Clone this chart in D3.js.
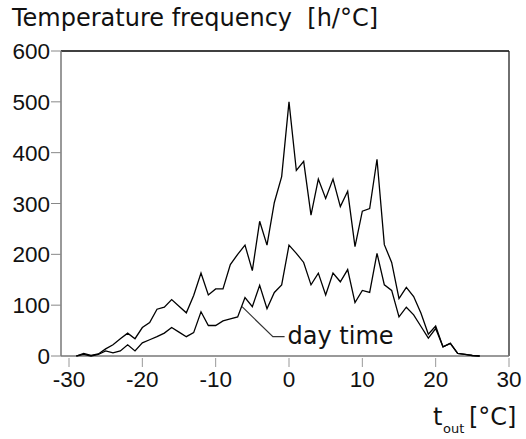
<!DOCTYPE html>
<html>
<head>
<meta charset="utf-8">
<script src="https://cdn.jsdelivr.net/npm/d3@7"></script>
<style>
  html, body { margin: 0; padding: 0; background: #fff; }
  svg { display: block; }
  text { white-space: pre; }
</style>
</head>
<body>
<script>
// ---- data ----
const temps = d3.range(-29, 27); // -29 .. 26 °C
const totalHours = [0, 5, 1, 4, 14, 22, 34, 45, 34, 56, 66, 92, 96, 111, 98, 85, 119, 163, 120, 132,
  132, 180, 200, 218, 168, 265, 218, 302, 353, 500, 365, 383, 277, 348, 310, 348, 294, 324, 215, 285,
  290, 387, 219, 184, 113, 135, 117, 84, 43, 59, 18, 25, 5, 3, 1, 0];
const dayHours = [0, 3, 0, 3, 10, 6, 10, 22, 10, 26, 32, 38, 45, 56, 47, 38, 46, 87, 60, 60,
  69, 73, 77, 115, 97, 139, 93, 125, 140, 218, 202, 184, 140, 163, 120, 163, 146, 170, 105, 129,
  125, 202, 140, 129, 77, 96, 81, 58, 35, 54, 18, 25, 5, 3, 1, 0];
const xTicks = [-30, -20, -10, 0, 10, 20, 30];
const yTicks = [0, 100, 200, 300, 400, 500, 600];
const titleText = "Temperature frequency  [h/°C]";
const dayLabel = "day time";
const leader = [[-6.4, 97], [-2.2, 38], [-0.6, 38]];

// ---- layout ----
const W = 526, H = 439;
const axisX = 61, plotRight = 509, plotTop = 51, plotBottom = 356;

const x = d3.scaleLinear().domain([-30, 30]).range([69, 509]);
const y = d3.scaleLinear().domain([0, 600]).range([plotBottom, plotTop]);

const svg = d3.select("body").append("svg").attr("width", W).attr("height", H);

const tickFont = "'Liberation Sans', Arial, sans-serif";
const textFont = "'DejaVu Sans', Verdana, sans-serif";

// frame: top and right black
svg.append("line").attr("x1", axisX).attr("x2", plotRight).attr("y1", plotTop).attr("y2", plotTop)
  .attr("stroke", "#000").attr("stroke-width", 1.3);
svg.append("line").attr("x1", plotRight).attr("x2", plotRight).attr("y1", plotTop).attr("y2", plotBottom)
  .attr("stroke", "#222").attr("stroke-width", 1.3);

// left axis
const yAxis = svg.append("g");
yAxis.append("line").attr("x1", axisX).attr("x2", axisX).attr("y1", plotTop).attr("y2", plotBottom)
  .attr("stroke", "#777").attr("stroke-width", 1.5);
yAxis.selectAll(".yt").data(yTicks).join("line")
  .attr("x1", 51).attr("x2", axisX).attr("y1", d => y(d)).attr("y2", d => y(d))
  .attr("stroke", "#888").attr("stroke-width", 1);
yAxis.selectAll(".yl").data(yTicks).join("text")
  .attr("x", 50).attr("y", d => y(d) + 8)
  .attr("text-anchor", "end")
  .attr("font-family", tickFont).attr("font-size", 22.5).attr("fill", "#111")
  .text(d => d);

// bottom axis
const xAxis = svg.append("g");
xAxis.append("line").attr("x1", axisX).attr("x2", plotRight).attr("y1", plotBottom).attr("y2", plotBottom)
  .attr("stroke", "#777").attr("stroke-width", 1.5);
xAxis.selectAll(".xt").data(xTicks).join("line")
  .attr("x1", d => x(d)).attr("x2", d => x(d)).attr("y1", 358).attr("y2", 367)
  .attr("stroke", "#999").attr("stroke-width", 1);
xAxis.selectAll(".xl").data(xTicks).join("text")
  .attr("x", d => x(d)).attr("y", 387)
  .attr("text-anchor", "middle")
  .attr("font-family", tickFont).attr("font-size", 22.5).attr("fill", "#111")
  .text(d => d);

// data lines
const line = d3.line().x(d => x(d[0])).y(d => y(d[1]));
svg.append("path").datum(temps.map((t, i) => [t, totalHours[i]]))
  .attr("d", line).attr("fill", "none").attr("stroke", "#000").attr("stroke-width", 1.3)
  .attr("stroke-linejoin", "miter");
svg.append("path").datum(temps.map((t, i) => [t, dayHours[i]]))
  .attr("d", line).attr("fill", "none").attr("stroke", "#000").attr("stroke-width", 1.3);

// day time annotation
svg.append("path").datum(leader).attr("d", line)
  .attr("fill", "none").attr("stroke", "#333").attr("stroke-width", 1.2);
svg.append("text").attr("x", x(-0.6) + 3).attr("y", 344)
  .attr("font-family", textFont).attr("font-size", 24).attr("fill", "#111")
  .text(dayLabel);

// title
svg.append("text").attr("x", 12).attr("y", 26)
  .attr("font-family", textFont).attr("font-size", 24).attr("fill", "#111")
  .attr("xml:space", "preserve")
  .text(titleText);

// x axis title: t_out [°C]
const xt = svg.append("text").attr("font-family", textFont).attr("fill", "#111");
xt.append("tspan").attr("x", 433).attr("y", 425).attr("font-size", 24).text("t");
xt.append("tspan").attr("x", 443).attr("y", 433).attr("font-size", 13).text("out");
xt.append("tspan").attr("x", 469).attr("y", 425).attr("font-size", 24).text("[°C]");
</script>
</body>
</html>
